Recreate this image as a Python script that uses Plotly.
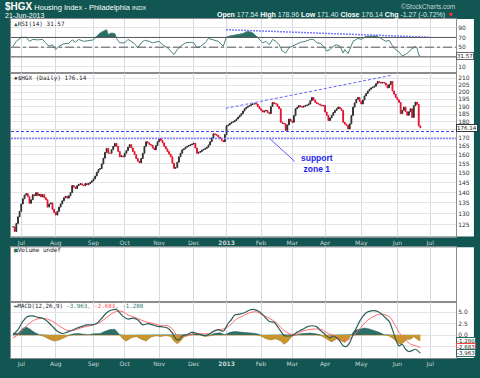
import numpy as np
import pandas as pd
import plotly.graph_objects as go

# ---------------- data ----------------
holidays = ["2012-07-04", "2012-09-03", "2012-10-29", "2012-10-30", "2012-11-22",
            "2012-12-25", "2013-01-01", "2013-01-21", "2013-02-18", "2013-03-29", "2013-05-27"]

closes = [
    124.0, 122.0, 125.5, 128.5, 131.0, 134.5, 137.0, 138.8, 139.5, 138.0,
    134.8, 136.5, 139.0, 138.5, 140.0, 138.5, 139.2, 138.0, 139.0, 137.5,
    136.5, 133.0, 134.5, 135.0, 132.0, 130.5, 129.3, 131.0, 133.0, 134.5,
    136.0, 137.5, 138.2, 137.3, 138.5, 140.0, 143.6, 142.8, 142.0, 143.5,
    144.2, 144.5, 143.8, 143.5, 144.6, 144.0, 144.5, 145.2, 146.0, 147.0,
    148.5, 150.5, 152.0, 152.5, 155.0, 158.2, 161.5, 163.8, 161.0, 161.0,
    163.0, 165.0, 166.7, 165.0, 162.0, 159.0, 159.5, 159.0, 161.0, 162.5,
    164.5, 166.0, 164.0, 162.0, 160.2, 158.0, 156.5, 155.6, 158.0, 161.0,
    165.0, 167.7, 167.0, 166.0, 165.7, 164.0, 163.0, 165.5, 167.7, 169.6,
    168.5, 167.0, 165.0, 163.5, 162.0, 160.5, 159.0, 155.5, 152.6, 153.0,
    156.0, 159.0, 161.0, 163.0, 163.5, 164.5, 165.0, 165.5, 165.9, 166.3,
    166.8, 164.0, 161.0, 161.5, 162.0, 162.8, 163.2, 163.8, 164.5, 165.8,
    167.7, 170.0, 172.5, 172.0, 171.6, 170.5, 169.6, 168.5, 167.7, 172.0,
    177.5, 178.0, 179.0, 179.7, 180.0, 180.8, 181.8, 183.0, 184.0, 185.3,
    187.0, 188.5, 189.5, 190.2, 190.7, 191.5, 191.7, 192.0, 191.7, 190.0,
    188.5, 187.5, 186.3, 187.0, 187.4, 186.0, 185.3, 190.0, 192.8, 192.0,
    191.7, 190.0, 188.5, 179.7, 179.0, 178.7, 174.6, 178.0, 181.8, 180.5,
    179.7, 184.0, 188.5, 189.5, 190.7, 190.0, 189.6, 190.2, 190.7, 191.0,
    191.7, 194.0, 196.2, 194.5, 192.8, 192.0, 191.7, 191.0, 190.5, 190.7,
    186.3, 184.0, 180.8, 182.5, 184.2, 186.0, 187.4, 188.5, 189.6, 188.5,
    187.4, 179.7, 178.5, 177.7, 175.5, 178.7, 184.0, 189.6, 192.5, 195.0,
    196.2, 193.5, 191.7, 194.5, 197.3, 199.0, 200.8, 202.0, 203.0, 203.5,
    204.2, 206.0, 207.7, 207.0, 206.5, 207.0, 206.5, 205.0, 203.0, 205.5,
    207.7, 200.8, 198.5, 196.2, 194.5, 192.8, 185.3, 187.5, 189.6, 186.5,
    184.2, 186.5, 188.5, 182.8, 190.5, 193.0, 191.5, 177.41, 176.14,
]

rsi_idx = [0, 2, 5, 8, 10, 12, 15, 18, 20, 22, 24, 26, 28, 31, 34, 36, 38, 40, 43, 46,
           49, 51, 53, 55, 57, 58, 60, 62, 63, 65, 68, 70, 72, 74, 76, 78, 80, 83, 85, 89,
           91, 94, 96, 98, 100, 102, 105, 108, 110, 112, 114, 117, 119, 122, 125, 128, 130, 132, 135, 138,
           140, 143, 146, 148, 150, 152, 154, 156, 158, 160, 162, 164, 166, 168, 170, 172, 175, 178, 181, 183,
           185, 187, 189, 191, 193, 195, 197, 199, 201, 202, 204, 205, 207, 210, 212, 215, 218, 221, 223, 225,
           227, 229, 231, 233, 235, 237, 239, 241, 243, 244, 245, 246, 247, 248]
rsi_vals = [52, 62, 70, 70.5, 62, 66, 65, 66, 58, 52, 55, 45, 52, 57, 58, 65, 60, 66, 62, 64,
            65, 72.5, 79, 83, 86, 76, 79, 78, 68, 59, 59, 66, 62, 57, 49, 59, 64, 62, 59, 62,
            55, 49, 42, 35, 45, 52, 59, 60, 59, 49, 51, 59, 68, 65, 62, 52, 71, 73, 75, 76,
            78, 83, 79, 73, 66, 59, 62, 55, 66, 62, 55, 42, 38, 49, 52, 55, 60, 62, 66, 66,
            59, 58, 52, 42, 45, 52, 55, 52, 38, 45, 37, 45, 62, 68, 66, 72, 73, 73, 70, 66,
            62, 64, 53, 45, 40, 32, 35, 40, 48, 48, 52, 48, 34, 31.57]

macd_idx = [0, 3, 6, 9, 12, 15, 18, 21, 24, 27, 30, 33, 36, 39, 42, 45, 48, 51, 54, 57,
            60, 63, 65, 67, 70, 73, 76, 79, 82, 85, 88, 91, 94, 97, 99, 101, 103, 106, 109, 112,
            116, 119, 122, 125, 128, 131, 133, 135, 138, 141, 144, 147, 150, 153, 156, 159, 161, 163, 165, 167,
            170, 173, 176, 179, 182, 185, 187, 189, 191, 193, 195, 197, 199, 201, 203, 205, 207, 209, 211, 213,
            215, 218, 221, 224, 227, 229, 231, 233, 235, 237, 239, 241, 243, 245, 248]
macd_vals = [0.1, 1.2, 3.0, 4.1, 4.2, 3.9, 3.7, 3.0, 1.9, 0.85, 0.35, 0.65, 1.05, 1.55, 1.9, 2.25, 2.25, 2.6, 3.7, 4.9,
             5.5, 5.6, 4.9, 4.1, 3.5, 3.7, 3.3, 2.25, 2.5, 2.25, 1.9, 1.8, 1.55, 0.5, -0.8, -1.05, -0.2, 0.1, 0.65, 0.35,
             -0.1, 0.1, 0.85, 1.2, 0.85, 2.6, 3.4, 4.4, 4.6, 4.9, 5.5, 5.6, 5.1, 4.1, 3.0, 2.8, 1.9, 0.85, -0.1, -0.2,
             -0.1, 0.65, 1.2, 1.8, 2.05, 1.8, 1.05, 0.5, -0.2, -0.6, -0.2, -0.6, -1.3, -2.35, -2.5, -1.65, 0.1, 1.55, 3.0, 4.1,
             4.9, 5.3, 5.3, 4.75, 3.7, 3.0, 1.2, -0.95, -2.35, -2.0, -3.1, -3.6, -3.4, -3.1, -3.963]

signal_idx = [0, 2, 5, 9, 13, 17, 21, 25, 29, 33, 37, 41, 45, 49, 53, 57, 61, 64, 67, 70,
              74, 78, 82, 86, 90, 94, 97, 100, 103, 107, 111, 116, 120, 124, 128, 131, 133, 136, 140, 144,
              148, 152, 156, 160, 164, 168, 172, 176, 180, 184, 188, 192, 196, 200, 204, 207, 211, 215, 220, 224,
              227, 230, 233, 236, 239, 242, 245, 248]
signal_vals = [-0.6, -0.2, 0.85, 2.25, 3.3, 3.7, 3.5, 2.8, 1.8, 1.05, 1.05, 1.55, 1.9, 2.25, 2.8, 3.9, 4.9, 5.3, 5.1, 4.4,
               3.9, 3.3, 2.8, 2.5, 2.05, 2.05, 1.35, -0.1, -0.2, -0.1, 0.35, 0.3, 0.35, 1.05, 1.35, 1.9, 2.5, 3.5, 4.2, 4.9,
               5.1, 4.4, 3.7, 2.8, 1.35, 0.35, 0.1, 0.85, 1.2, 1.35, 1.2, 0.35, -0.2, -0.95, -1.05, -0.2, 1.35, 3.0, 4.2, 4.6,
               4.4, 3.7, 1.9, 0.1, -1.05, -2.0, -2.35, -2.683]

hist_idx = [0, 3, 6, 8, 10, 13, 16, 19, 22, 25, 28, 31, 34, 37, 40, 43, 46, 49, 53, 56,
            59, 62, 65, 67, 69, 72, 75, 78, 81, 84, 87, 90, 93, 96, 98, 100, 102, 104, 107, 110,
            114, 117, 120, 123, 126, 129, 132, 135, 140, 144, 148, 151, 154, 157, 160, 163, 165, 167, 170, 173,
            176, 181, 185, 188, 191, 194, 197, 200, 202, 204, 206, 208, 211, 214, 217, 220, 223, 226, 229, 232,
            234, 236, 238, 240, 242, 244, 246, 248]
hist_vals = [0.4, 0.4, 1.5, 1.8, 1.4, 0.6, 0.1, -0.3, -0.9, -1.3, -1.1, -0.6, -0.1, 0.3, 0.35, 0.2, 0.1, 0.3, 0.35, 0.85,
             1.2, 1.3, 0.1, -0.9, -1.3, -0.6, -0.3, -0.9, -1.3, -0.4, -0.15, -0.3, -0.1, -0.3, -1.3, -1.9, -1.3, -0.4, 0.1, 0.4,
             0.1, -0.3, -0.1, 0.4, 0.5, 0.1, 0.6, 0.8, 0.6, 0.45, 0.35, -0.2, -0.8, -1.05, -0.8, -1.3, -2.0, -1.5, -0.2, 0.1,
             0.35, 0.45, 0.25, -0.2, -0.9, -1.5, -0.8, -1.3, -1.6, -0.9, 0.1, 1.05, 1.35, 1.55, 1.35, 1.05, 0.6, 0.1, -0.2, -0.9,
             -1.6, -2.0, -1.5, -0.9, -0.9, -0.35, -0.9, -1.28]

support_levels = [173.9, 169.6]
price_trend_idx = [129.5, 231.0]
price_trend_vals = [188.8, 212.4]
rsi_trend_idx = [129.7, 253.3]
rsi_trend_vals = [86.0, 70.5]
callout_idx = [156.3, 171.5]
callout_vals = [169.6, 156.4]

month_labels = ["Jul", "Aug", "Sep", "Oct", "Nov", "Dec", "<b>2013</b>", "Feb", "Mar", "Apr", "May", "Jun", "Jul"]
price_ticks = list(range(125, 211, 5))
price_ticktext = ["" if v == 175 else str(v) for v in price_ticks]   # 175 sits under the 176.14 box
rsi_ticks = [10, 30, 50, 70, 90]
rsi_ticktext = ["10", "", "50", "70", "90"]                            # 30 sits under the 31.57 box
macd_ticks = [-2.5, 0.0, 2.5, 5.0]
macd_ticktext = ["", "0.0", "2.5", "5.0"]                              # -2.5 sits under the value boxes

# ---------------- calendar ----------------
days = pd.bdate_range("2012-06-25", "2013-07-05")
days = days[~days.isin(pd.to_datetime(holidays))]
month_first = [i for i in range(1, len(days)) if days[i].month != days[i - 1].month]

x = np.arange(len(closes))
closes_a = np.array(closes)
opens = np.concatenate([[closes_a[0]], closes_a[:-1]])
highs = np.maximum(opens, closes_a)
lows = np.minimum(opens, closes_a)

# ---------------- layout helpers ----------------
W, H = 480, 378
ML, MR, MT, MB = 10, 23, 19, 10
PW, PH = W - ML - MR, H - MT - MB


def px(xp):
    return (xp - ML) / PW


def py(yp):
    return (H - MB - yp) / PH


TEAL = "#115652"
XR = [-1.24, 269.7]
TICKF = dict(family="DejaVu Sans", size=6, color="#333333")

fig = go.Figure()

# RSI panel
fig.add_trace(go.Scatter(x=rsi_idx, y=[70] * len(rsi_idx), xaxis="x", yaxis="y", mode="lines",
                         line=dict(width=0), hoverinfo="skip", showlegend=False))
fig.add_trace(go.Scatter(x=rsi_idx, y=np.maximum(np.array(rsi_vals), 70), xaxis="x", yaxis="y", mode="lines",
                         line=dict(width=0), fill="tonexty", fillcolor="#2c6e67", hoverinfo="skip", showlegend=False))
fig.add_trace(go.Scatter(x=rsi_idx, y=rsi_vals, xaxis="x", yaxis="y", mode="lines",
                         line=dict(color="#4b817c", width=1), hoverinfo="skip", showlegend=False))
fig.add_trace(go.Scatter(x=rsi_trend_idx, y=rsi_trend_vals, xaxis="x", yaxis="y", mode="lines",
                         line=dict(color="#7b7bff", width=1.5, dash="2px,1px"), hoverinfo="skip", showlegend=False))

# Price panel
fig.add_trace(go.Candlestick(x=x, open=opens, high=highs, low=lows, close=closes_a, xaxis="x2", yaxis="y2",
                             increasing=dict(line=dict(color="#2b2b2b", width=1), fillcolor="#666666"),
                             decreasing=dict(line=dict(color="#e4102c", width=1), fillcolor="#e4102c"),
                             whiskerwidth=0, hoverinfo="skip", showlegend=False))
fig.add_trace(go.Scatter(x=XR, y=[support_levels[0]] * 2, xaxis="x2", yaxis="y2", mode="lines",
                         line=dict(color="#4040ee", width=1, dash="3px,2px"), hoverinfo="skip", showlegend=False))
fig.add_trace(go.Scatter(x=XR, y=[support_levels[1]] * 2, xaxis="x2", yaxis="y2", mode="lines",
                         line=dict(color="#7f7fff", width=1.6, dash="2px,1px"), hoverinfo="skip", showlegend=False))
fig.add_trace(go.Scatter(x=price_trend_idx, y=price_trend_vals, xaxis="x2", yaxis="y2", mode="lines",
                         line=dict(color="#6464ff", width=1, dash="3px,2px"), hoverinfo="skip", showlegend=False))
fig.add_trace(go.Scatter(x=callout_idx, y=callout_vals, xaxis="x2", yaxis="y2", mode="lines",
                         line=dict(color="#5a5aee", width=1), hoverinfo="skip", showlegend=False))

# Volume panel (empty)
fig.add_trace(go.Scatter(x=[], y=[], xaxis="x3", yaxis="y3", mode="lines", showlegend=False))

# MACD panel
hv = np.array(hist_vals)
fig.add_trace(go.Scatter(x=hist_idx, y=np.maximum(hv, 0), xaxis="x4", yaxis="y4", mode="lines",
                         line=dict(color="#236760", width=0.5), fill="tozeroy", fillcolor="#2b6f68",
                         hoverinfo="skip", showlegend=False))
fig.add_trace(go.Scatter(x=hist_idx, y=np.minimum(hv, 0), xaxis="x4", yaxis="y4", mode="lines",
                         line=dict(color="#9a6f14", width=0.5), fill="tozeroy", fillcolor="#c8962a",
                         hoverinfo="skip", showlegend=False))
fig.add_trace(go.Scatter(x=signal_idx, y=signal_vals, xaxis="x4", yaxis="y4", mode="lines",
                         line=dict(color="#ff6a6a", width=1, shape="spline", smoothing=0.8),
                         hoverinfo="skip", showlegend=False))
fig.add_trace(go.Scatter(x=macd_idx, y=macd_vals, xaxis="x4", yaxis="y4", mode="lines",
                         line=dict(color="#2f5f5b", width=1.2, shape="spline", smoothing=0.8),
                         hoverinfo="skip", showlegend=False))


def xax(domain_anchor, show_labels, label_color="#c9d6d4"):
    return dict(range=XR, anchor=domain_anchor, tickmode="array", tickvals=month_first, ticktext=month_labels,
                showticklabels=show_labels, ticks="", showgrid=True, gridcolor="#d6d9e8", gridwidth=1,
                showline=True, mirror=True, linecolor="#8c8c8c", linewidth=1, zeroline=False,
                tickfont=dict(family="DejaVu Sans", size=6, color=label_color), rangeslider=dict(visible=False),
                fixedrange=True)


def yax(domain, anchor, **kw):
    d = dict(domain=domain, anchor=anchor, side="right", ticks="", showgrid=True, gridcolor="#e4e4e4",
             showline=True, mirror=True, linecolor="#8c8c8c", linewidth=1, zeroline=False, tickfont=TICKF,
             fixedrange=True)
    d.update(kw)
    return d


fig.update_layout(
    width=W, height=H,
    margin=dict(l=ML, r=MR, t=MT, b=MB, pad=0),
    paper_bgcolor=TEAL, plot_bgcolor="white",
    showlegend=False,
    xaxis=xax("y", False),
    xaxis2=xax("y2", True),
    xaxis3=xax("y3", False),
    xaxis4=xax("y4", True),
    yaxis=yax([py(75), 1.0], "x", range=[-4, 108], tickmode="array", tickvals=rsi_ticks, ticktext=rsi_ticktext),
    yaxis2=yax([py(243), py(75)], "x2", type="log", range=[np.log10(119.8), np.log10(213.7)],
               tickmode="array", tickvals=price_ticks, ticktext=price_ticktext),
    yaxis3=yax([py(310), py(254)], "x3", range=[0, 1], showticklabels=False, showgrid=False),
    yaxis4=yax([0.0, py(310)], "x4", range=[-5.02, 7.33], tickmode="array", tickvals=macd_ticks,
               ticktext=macd_ticktext),
)

shapes = []
# white label columns to the right of the panels
for y0, y1 in [(py(243), 1.0), (0.0, py(254))]:
    shapes.append(dict(type="rect", xref="paper", yref="paper", x0=1.0, x1=px(475), y0=y0, y1=y1,
                       fillcolor="white", line=dict(width=0), layer="below"))
# RSI reference lines
for lvl, dash in [(70, "solid"), (30, "solid"), (50, "dashdot")]:
    shapes.append(dict(type="line", xref="x domain", yref="y", x0=0, x1=1, y0=lvl, y1=lvl,
                       line=dict(color="#555555", width=1, dash=dash), layer="above"))
fig.update_layout(shapes=shapes)

ann = []


def label(xp, yp, text, size=7, color="white", family="Liberation Sans", xanchor="left"):
    ann.append(dict(xref="paper", yref="paper", x=px(xp), y=py(yp), text=text, showarrow=False,
                    xanchor=xanchor, yanchor="middle", font=dict(family=family, size=size, color=color)))


label(2, 6, '<span style="font-size:10px"><b>$HGX</b></span> Housing Index - Philadelphia '
            '<span style="font-size:6px">INDX</span>', size=7.5)
label(2, 15, "21-Jun-2013", size=7)
label(458, 6, "©StockCharts.com", size=6.5, color="#c5d3d1", xanchor="right")
label(457, 15, '<b>Open</b> <span style="color:#dfe7e6">177.54</span> <b>High</b> '
               '<span style="color:#dfe7e6">178.96</span> <b>Low</b> <span style="color:#dfe7e6">171.40</span> '
               '<b>Close</b> <span style="color:#dfe7e6">176.14</span> <b>Chg</b> '
               '<span style="color:#dfe7e6">-1.27 (-0.72%)</span> <span style="color:#ff3030">▼</span>',
      size=7, xanchor="right")

MONO = "DejaVu Sans Mono"
label(11, 23.5, '<span style="color:#2c6e67">▲</span>RSI(14) 31.57', size=6, color="#222222", family=MONO)
label(11, 80, '<span style="color:#333">▪</span>$HGX (Daily) 176.14', size=6, color="#222222", family=MONO)
label(11, 256.5, '<span style="color:#2c6e67">■</span>Volume undef', size=6, color="#222222", family=MONO)
label(11, 314, '<span style="color:#2c6e67">▬</span>MACD(12,26,9) <span style="color:#2c7a72">-3.963</span>'
               '<span style="color:#ff5050">, -2.683</span><span style="color:#2c7a72">, -1.280</span>',
      size=5.8, color="#222222", family=MONO)

label(299, 167.5, "<b>support<br>zone 1</b>", size=8.5, color="#1d1df0", family="Liberation Sans")


def vbox(yref, yval, text, border):
    ann.append(dict(xref="paper", yref=yref, x=1.0, y=yval, text=text, showarrow=False, xanchor="left",
                    yanchor="middle", font=dict(family="DejaVu Sans", size=5.5, color="#222222"),
                    bgcolor="white", bordercolor=border, borderwidth=1, borderpad=0))


vbox("y", 31.57, "31.57", "#666666")
vbox("y2", np.log10(176.14), "176.14", "#333333")
vbox("y4", -1.28, "-1.280", "#2c6e67")
vbox("y4", -2.683, "-2.683", "#ff4040")
vbox("y4", -3.963, "-3.963", "#2c6e67")

fig.update_layout(annotations=ann)

fig.write_html("out.html", config={"displayModeBar": False},
               post_script="document.body.style.margin='0';document.body.style.background='%s';" % TEAL)
